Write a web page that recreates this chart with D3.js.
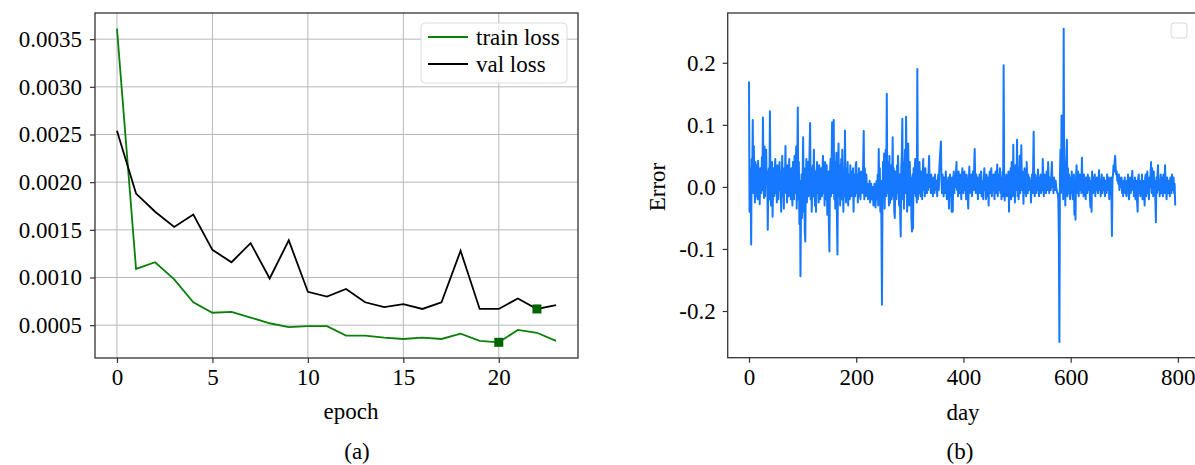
<!DOCTYPE html>
<html lang="en">
<head>
    <meta charset="UTF-8">
    <title>Loss and error</title>
    <script src="https://cdn.jsdelivr.net/npm/d3@7"></script>
    <style>
        body{ margin: 0; background: #fff; }
        svg text{ font-family: "Liberation Serif", "Times New Roman", serif; fill: #000; }
        .tick text{ font-size: 23px; }
        .tick line{ stroke: #333; stroke-width: 1.2; }
        .domain{ display: none; }
        .grid line{ stroke: #b8b8b8; stroke-width: 1; }
    </style>
</head>
<body>
    <svg id="main-svg" width="1195" height="465"></svg>

    <script>
        // panel (a): loss per epoch
        const epochs = [0,1,2,3,4,5,6,7,8,9,10,11,12,13,14,15,16,17,18,19,20,21,22,23];
        const trainLoss = [0.00361,0.00109,0.00116,0.00098,0.00074,0.00063,0.00064,0.00058,0.00052,0.00048,0.00049,0.00049,
                           0.00039,0.00039,0.00037,0.000355,0.00037,0.000355,0.00041,0.000335,0.00032,0.00045,0.00042,0.000335];
        const valLoss = [0.00254,0.00188,0.00169,0.00153,0.00166,0.00129,0.00116,0.00136,0.00099,0.00139,0.00085,0.0008,
                         0.00088,0.00074,0.00069,0.00072,0.00067,0.00074,0.00128,0.00067,0.00067,0.00078,0.00067,0.00071];
        const bestTrain = 20, bestVal = 22;
        const lossTicksX = [0,5,10,15,20];
        const lossTicksY = [0.0005,0.001,0.0015,0.002,0.0025,0.003,0.0035];

        // panel (b): daily error, in thousandths (day = index)
        const errorMilli = [
            170,-40,30,10,-93,45,20,108,-10,66,5,-25,40,-15,35,0,-20,42,10,-5,
            -28,30,15,-10,48,-5,112,20,-18,65,-15,40,60,5,25,-69,10,30,-20,122,
            15,-30,20,40,-48,10,30,-15,25,45,-10,20,-25,35,5,-20,15,40,-5,25,
            -40,10,50,-15,20,-35,30,5,66,-10,20,-25,35,10,-15,45,0,20,-20,30,
            5,-30,40,15,-20,50,-10,25,65,-35,30,128,-20,40,-60,10,-144,-30,20,-50,
            15,80,-40,30,-70,-88,10,45,-25,20,40,-15,5,60,103,-20,30,-40,10,35,
            -15,60,5,-30,25,-40,15,40,-10,20,-25,35,0,-20,30,10,-15,25,50,-10,
            20,-30,40,5,-20,35,-45,15,25,-60,-104,20,45,-15,30,104,-10,50,108,-20,
            40,-35,15,55,-50,-109,20,70,-15,35,-30,10,45,-20,60,5,-40,25,-15,91,
            10,-25,30,-10,40,-30,15,20,-20,35,5,-15,25,-5,30,-40,10,20,-15,35,
            40,-10,20,-25,5,30,-15,10,-20,25,-5,15,-10,40,90,-20,30,5,-15,20,
            -10,5,-20,0,-15,10,-25,-5,5,-20,-10,0,-30,-15,5,-25,-33,-10,10,-20,
            20,-30,61,-15,30,-40,10,-60,-190,-20,40,-10,54,-35,25,60,-15,150,-10,40,
            20,-30,50,-26,15,35,-20,10,80,-15,30,-40,-50,25,10,-20,35,-10,50,5,
            -30,20,-45,-80,30,50,110,-20,40,-35,15,60,-10,113,20,-40,30,70,-10,-30,
            40,-20,15,-50,-72,20,-67,30,-10,25,45,-15,10,-25,190,-20,15,-10,40,5,
            -15,25,0,-20,20,45,-5,15,-15,30,5,-10,-10,20,-5,25,50,0,15,-10,
            20,-5,10,-15,15,5,-10,20,0,-5,10,-15,5,20,-5,30,45,60,73,10,
            -10,20,5,-15,15,0,-10,25,5,-20,10,-5,15,-35,10,20,-15,5,-40,15,
            -40,10,25,-10,15,0,20,40,-5,15,-15,25,5,-10,20,0,-20,15,30,-5,
            -10,15,25,-5,10,-20,20,5,-15,-35,10,33,-10,15,0,20,-15,5,25,-5,
            30,61,5,-10,20,-5,15,-20,10,0,20,-10,5,25,-15,10,0,-20,15,30,
            -5,10,-20,20,0,-15,15,-30,10,25,-10,5,30,-15,10,-5,20,0,-20,15,
            25,-10,5,36,-15,10,20,-5,30,-10,15,-20,5,25,-15,196,10,-22,15,-10,
            20,-15,10,-5,25,-40,15,-10,30,-20,40,5,-15,68,-10,20,-25,35,10,-5,
            76,-15,30,-20,15,50,-10,20,67,-5,25,10,-27,15,30,-10,5,-15,40,10,
            -10,20,-5,15,0,10,-25,5,20,-10,30,89,0,-15,20,10,-10,15,-5,28,
            5,-15,15,0,20,-10,10,-5,45,5,-15,20,0,10,-10,25,5,-5,40,10,
            -10,15,5,-5,20,40,0,10,-10,15,5,-5,10,0,-5,-10,-10,-20,-80,-250,
            20,60,-10,115,20,70,-20,255,-10,40,-30,20,50,76,-15,30,-10,20,5,-20,
            15,-10,25,0,-20,10,20,-45,5,-53,15,35,-10,10,25,-15,5,20,-5,10,
            -10,47,5,15,-15,20,0,10,-20,15,5,-10,20,0,-5,15,-20,-33,10,-40,
            25,5,-10,15,0,20,-15,10,-5,15,0,-10,10,27,-5,10,-15,5,20,-10,
            10,-5,15,0,-15,10,5,-10,20,0,-5,15,-20,10,0,15,-10,-79,10,20,
            35,25,40,50,30,20,25,10,15,5,20,-5,10,0,15,15,-10,5,-15,10,
            -5,15,-10,5,-15,10,-5,20,-10,-20,5,15,-10,0,10,26,-5,10,-15,5,
            15,-20,0,10,-25,-40,15,20,-10,5,-15,10,-5,20,-20,10,0,-10,-30,15,
            20,-15,10,25,-10,5,-20,15,0,20,40,-10,30,10,-15,25,-5,10,-20,-57,
            15,-10,20,35,-5,10,-15,5,20,-10,15,0,-15,20,5,-10,35,10,-5,-20,
            15,5,-10,10,0,-15,15,5,-10,20,10,-5,15,-10,5,-30
        ];
        const errors = errorMilli.map(v => v / 1000);
        const errTicksX = [0,200,400,600,800];
        const errTicksY = [-0.2,-0.1,0,0.1,0.2];

        const serif = '"Liberation Serif", "Times New Roman", serif';
        const mSvg = d3.select('#main-svg');

        // matplotlib style 5% padding
        const padded = (lo, hi) => { let m = (hi - lo) * 0.05; return [lo - m, hi + m]; };

        let styleAxis = g => {
            g.attr('font-family', null).attr('font-size', null);
            g.selectAll('.tick text').style('font-family', serif).style('font-size', '23px');
        };

        // ---------- panel (a) ----------
        let A = {l: 95, r: 578, t: 13, b: 358};
        let allLoss = trainLoss.concat(valLoss);
        let xA = d3.scaleLinear().domain(padded(d3.min(epochs), d3.max(epochs))).range([A.l, A.r]);
        let yA = d3.scaleLinear().domain(padded(d3.min(allLoss), d3.max(allLoss))).range([A.b, A.t]);

        let gA = mSvg.append('g');

        // grid
        gA.append('g').classed('grid', true)
            .selectAll('line').data(lossTicksX).enter().append('line')
            .attr('x1', d => xA(d)).attr('x2', d => xA(d))
            .attr('y1', A.t).attr('y2', A.b);
        gA.append('g').classed('grid', true)
            .selectAll('line').data(lossTicksY).enter().append('line')
            .attr('x1', A.l).attr('x2', A.r)
            .attr('y1', d => yA(d)).attr('y2', d => yA(d));

        gA.append('g')
            .attr('transform', 'translate(0,' + A.b + ')')
            .call(d3.axisBottom(xA).tickValues(lossTicksX).tickSize(5).tickPadding(6).tickFormat(d3.format('d')))
            .call(styleAxis);
        gA.append('g')
            .attr('transform', 'translate(' + A.l + ',0)')
            .call(d3.axisLeft(yA).tickValues(lossTicksY).tickSize(5).tickPadding(8).tickFormat(d3.format('.4f')))
            .call(styleAxis);

        let lineA = (arr) => d3.line().x((d,i) => xA(epochs[i])).y(d => yA(d))(arr);

        gA.append('path').attr('d', lineA(trainLoss))
            .style('fill','none').style('stroke','#0a7f0a').style('stroke-width', 1.8);
        gA.append('path').attr('d', lineA(valLoss))
            .style('fill','none').style('stroke','#000').style('stroke-width', 1.8);

        // best-epoch markers
        gA.selectAll('.best').data([[bestTrain, trainLoss[bestTrain]], [bestVal, valLoss[bestVal]]])
            .enter().append('rect')
            .attr('x', d => xA(d[0]) - 4.5).attr('y', d => yA(d[1]) - 4.5)
            .attr('width', 9).attr('height', 9)
            .style('fill', '#006400');

        gA.append('rect')
            .attr('x', A.l).attr('y', A.t).attr('width', A.r - A.l).attr('height', A.b - A.t)
            .style('fill','none').style('stroke','#333').style('stroke-width', 1.3);

        // legend
        let leg = gA.append('g');
        leg.append('rect').attr('x', 421).attr('y', 23).attr('width', 146).attr('height', 60).attr('rx', 4)
            .style('fill','rgba(255,255,255,0.85)').style('stroke','#dcdcdc');
        [['train loss','#0a7f0a'],['val loss','#000']].forEach((it, i) => {
            leg.append('line').attr('x1', 428).attr('x2', 468).attr('y1', 37 + i*27).attr('y2', 37 + i*27)
                .style('stroke', it[1]).style('stroke-width', 1.8);
            leg.append('text').attr('x', 476).attr('y', 45 + i*27).style('font-size','23px').text(it[0]);
        });

        gA.append('text').attr('x', 351).attr('y', 419).attr('text-anchor','middle').style('font-size','23px').text('epoch');
        gA.append('text').attr('x', 357).attr('y', 459).attr('text-anchor','middle').style('font-size','23px').text('(a)');

        // ---------- panel (b) ----------
        let B = {l: 727.7, r: 1196.5, t: 13, b: 357.7};
        let xB = d3.scaleLinear().domain(padded(0, errors.length - 1)).range([B.l, B.r]);
        let yB = d3.scaleLinear().domain(padded(d3.min(errors), d3.max(errors))).range([B.b, B.t]);

        let gB = mSvg.append('g');

        gB.append('g')
            .attr('transform', 'translate(0,' + B.b + ')')
            .call(d3.axisBottom(xB).tickValues(errTicksX).tickSize(5).tickPadding(6).tickFormat(d3.format('d')))
            .call(styleAxis);
        gB.append('g')
            .attr('transform', 'translate(' + B.l + ',0)')
            .call(d3.axisLeft(yB).tickValues(errTicksY).tickSize(5).tickPadding(7).tickFormat(d => d.toFixed(1)))
            .call(styleAxis);

        gB.append('path')
            .attr('d', d3.line().x((d,i) => xB(i)).y(d => yB(d))(errors))
            .style('fill','none').style('stroke','#1677ff').style('stroke-width', 2)
            .style('stroke-linejoin','round');

        gB.append('rect')
            .attr('x', B.l).attr('y', B.t).attr('width', B.r - B.l).attr('height', B.b - B.t)
            .style('fill','none').style('stroke','#333').style('stroke-width', 1.3);

        // empty legend box
        gB.append('rect').attr('x', 1171).attr('y', 23).attr('width', 16).attr('height', 15).attr('rx', 3)
            .style('fill','#fff').style('stroke','#d8d8d8');

        gB.append('text').attr('transform', 'translate(665,187) rotate(-90)')
            .attr('text-anchor','middle').style('font-size','23px').text('Error');
        gB.append('text').attr('x', 963).attr('y', 420).attr('text-anchor','middle').style('font-size','23px').text('day');
        gB.append('text').attr('x', 960).attr('y', 459).attr('text-anchor','middle').style('font-size','23px').text('(b)');
    </script>
</body>
</html>
